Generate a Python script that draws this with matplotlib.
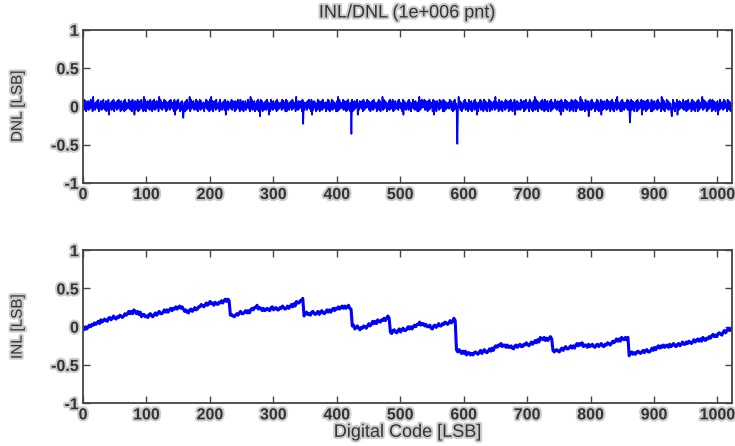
import numpy as np
import matplotlib
matplotlib.use("Agg")
import matplotlib.pyplot as plt
import matplotlib.patheffects as pe

# DNL per code, one character per code (see DNL_LEVELS)
DNL_ROWS = [
    "71938062 81729360 u2617382 90638172 93618072 9d637182 90736182 93708162",
    "80917263 92718093 6d817290 71839260 u1907382 61937082 91728360 u3927163",
    "92807163 81937260 9d718293 60718392 70819263 u0927381 62918073 91826370",
    "63928170 91u28073 81926370 92617381 9d728163 72918360 81739260 92718063",
    "81639270 u3917280 62819073 92806172 81937d60 92718362 80917263 71928360",
    "90826173 81927360 u2718263 80927163 71839260 9d718370 61928073 81926370",
    "72918063 91827360 80u19273 62918370 81926073 90718263 9d618372 80917263",
    "93817062 81927360 72918063 u1928370 62819273 90718362 81937260 9d827163",
    "81927063 92718360 70u18293 63918270 81927360 9d817083 61928370 90817263",
    "72938160 81926073 u3817062 83917260 92718063 81927d60 73918260 92817063",
    "90827163 81u27360 92718063 71928360 82917063 9d728173 61927380 81926370",
    "93716082 u1928073 62819370 91728063 80917263 92718360 8d927063 92817360",
    "71928063 90827361 u1917260 93718062 81927360 72918063 9d817283 61928370",
    "82917063 91u27360 80927163 72918360 91827063 80917263 9d818270 81927360",
    "90718263 81927360 u2918063 92817360 81927063 9d718273 62917380 81926370",
    "92817063 80917263 u1928370 61829370 91827063 8d619273 71928360 92817063",
]
DNL_LEVELS = {"d": -0.11, "0": -0.065, "1": -0.048, "2": -0.031, "3": -0.014,
              "4": 0.003, "5": 0.020, "6": 0.037, "7": 0.054, "8": 0.071,
              "9": 0.088, "u": 0.125}
DNL_SPIKE_CODES = [158, 279, 347, 423, 590, 797, 862, 928]
DNL_SPIKE_VALUES = [-0.15, -0.13, -0.23, -0.36, -0.49, -0.13, -0.21, -0.13]

# INL in hundredths of LSB, one value every ~2 codes
INL = [
    -1, -4, 0, -3, 0, 2, 0, 3, 2, 5, 3, 5, 7, 4, 9, 6, 8, 10, 8, 7, 11, 12, 9, 11, 14, 11, 10, 13, 12, 15, 14, 12,
    14, 17, 15, 17, 20, 17, 20, 17, 22, 20, 17, 20, 16, 19, 13, 16, 16, 13, 14, 12, 16, 17, 14, 13, 16, 18, 15, 18, 20, 17, 17, 19,
    22, 19, 22, 19, 22, 24, 21, 24, 23, 26, 23, 25, 27, 24, 26, 23, 20, 22, 19, 18, 22, 23, 20, 22, 25, 22, 23, 26, 26, 29, 28, 26,
    28, 31, 28, 30, 33, 30, 31, 28, 32, 30, 29, 32, 31, 34, 31, 34, 36, 33, 36, 34, 15, 16, 14, 13, 15, 17, 15, 18, 20, 17, 17, 19,
    21, 18, 21, 18, 22, 24, 22, 25, 25, 28, 23, 25, 24, 21, 24, 21, 22, 24, 22, 21, 25, 26, 22, 24, 25, 22, 22, 25, 24, 27, 25, 23,
    24, 27, 24, 26, 29, 26, 30, 27, 33, 31, 31, 34, 34, 37, 14, 17, 19, 16, 17, 15, 19, 20, 17, 16, 18, 20, 16, 19, 21, 18, 17, 19,
    22, 19, 22, 19, 22, 24, 21, 24, 23, 26, 23, 25, 27, 24, 27, 24, 26, 28, 24, 23, 1, 2, -3, -1, 1, -2, -4, -1, -2, 1, 0, -2,
    1, 4, 1, 3, 7, 4, 7, 4, 9, 7, 6, 9, 8, 11, 8, 11, 14, 11, -7, -9, -5, -4, -7, -8, -5, -3, -7, -4, -2, -5, -5, -3,
    0, -3, 0, -3, 0, 2, 0, 3, 3, 6, 2, 4, 4, 1, 3, 0, 0, 2, -2, -3, 1, 2, -1, 1, 4, 1, 1, 4, 3, 6, 5, 3,
    5, 8, 5, 7, 11, 8, -30, -33, -30, -32, -35, -32, -35, -32, -37, -34, -34, -37, -35, -37, -34, -33, -35, -36, -33, -31, -35, -32, -30, -33, -34, -32,
    -29, -32, -28, -31, -27, -25, -27, -24, -25, -22, -26, -24, -24, -27, -24, -27, -27, -25, -28, -29, -25, -24, -27, -25, -23, -26, -26, -23, -24, -21, -23, -25,
    -23, -20, -23, -21, -18, -21, -17, -20, -14, -16, -17, -14, -18, -15, -18, -15, -13, -16, -31, -33, -31, -30, -32, -33, -30, -28, -31, -28, -26, -29, -29, -27,
    -25, -28, -25, -28, -24, -22, -25, -22, -24, -21, -26, -24, -24, -27, -23, -26, -25, -23, -26, -27, -24, -23, -26, -24, -22, -25, -26, -23, -24, -21, -22, -24,
    -22, -19, -21, -19, -16, -19, -16, -19, -14, -16, -17, -14, -17, -14, -38, -35, -33, -36, -34, -36, -33, -32, -34, -35, -33, -31, -34, -31, -30, -33, -33, -31,
    -28, -31, -27, -30, -27, -25, -28, -25, -27, -24, -27, -25, -24, -27, -23, -26, -24, -22, -25, -26, -23, -22, -25, -23, -20, -23, -23, -20, -22, -19, -20, -22,
    -20, -17, -20, -18, -16, -19, -16, -19, -14, -16, -18, -15, -16, -13, -15, -12, -10, -13, -11, -13, -9, -8, -10, -11, -7, -5, -8, -5, -2, -5, -4, -2,
]

TITLE = "INL/DNL (1e+006 pnt)"
X_TICKS = list(range(0, 1001, 100))
Y_TICKS = [-1, -0.5, 0, 0.5, 1]
Y_TICK_LABELS = ["-1", "-0.5", "0", "0.5", "1"]

plt.rcParams["font.family"] = ["Liberation Sans", "DejaVu Sans"]
# keep every sample of the dense traces
plt.rcParams["path.simplify"] = False

dnl_chars = "".join(DNL_ROWS).replace(" ", "")
dnl = np.array([DNL_LEVELS[c] for c in dnl_chars])
for code, val in zip(DNL_SPIKE_CODES, DNL_SPIKE_VALUES):
    dnl[code] = val
dnl_x = np.arange(len(dnl))

inl = np.array(INL) / 100.0
inl_x = np.linspace(0, 1023, len(inl))

halo = [pe.withStroke(linewidth=3, foreground="#cccccc")]


def style_axes(ax, ylabel):
    ax.set_xlim(0, 1023)
    ax.set_ylim(-1, 1)
    ax.set_xticks(X_TICKS)
    ax.set_yticks(Y_TICKS)
    ax.set_yticklabels(Y_TICK_LABELS)
    ax.tick_params(direction="in", top=True, right=True, length=5, width=1,
                   color="#444444", labelcolor="#333333", labelsize=11.5, pad=3)
    for lbl in ax.get_xticklabels() + ax.get_yticklabels():
        lbl.set_fontweight("bold")
        lbl.set_path_effects(halo)
    for sp in ax.spines.values():
        sp.set_color("#444444")
        sp.set_linewidth(1.3)
    ax.set_ylabel(ylabel, fontsize=11, color="#333333", path_effects=halo)
    ax.yaxis.set_label_coords(-0.090, 0.5)


fig = plt.figure(figsize=(7.35, 4.46), dpi=100)
ax1 = fig.add_axes([0.113, 0.590, 0.883, 0.343])
ax2 = fig.add_axes([0.113, 0.096, 0.883, 0.343])

ax1.plot(dnl_x, dnl, color="#0000ff", linewidth=1.2)
style_axes(ax1, "DNL [LSB]")

ax2.plot(inl_x, inl, color="#0000ff", linewidth=2.2)
style_axes(ax2, "INL [LSB]")
ax2.set_xlabel("Digital Code [LSB]", fontsize=13, color="#333333",
               path_effects=halo)
ax2.xaxis.set_label_coords(0.5, -0.135)

fig.text(0.554, 1 - 13 / 446, TITLE, ha="center", va="center", fontsize=13,
         color="#333333", path_effects=halo)

fig.savefig("out.png", dpi=100)
